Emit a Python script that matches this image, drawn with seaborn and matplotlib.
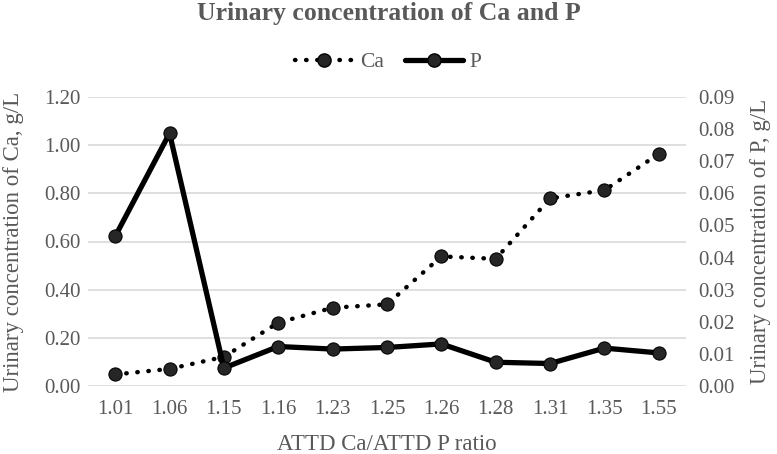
import matplotlib
matplotlib.use("Agg")
import matplotlib.pyplot as plt
import seaborn as sns
import pandas as pd
from matplotlib.lines import Line2D

ratios = ["1.01", "1.06", "1.15", "1.16", "1.23", "1.25", "1.26", "1.28", "1.31", "1.35", "1.55"]
ca_values = [0.048, 0.071, 0.121, 0.263, 0.325, 0.339, 0.538, 0.528, 0.779, 0.813, 0.964]
p_values = [0.0466, 0.0787, 0.0056, 0.0123, 0.0115, 0.0120, 0.0131, 0.0074, 0.0070, 0.0118, 0.0103]
left_ticks = [0.0, 0.2, 0.4, 0.6, 0.8, 1.0, 1.2]
right_ticks = [0.0, 0.01, 0.02, 0.03, 0.04, 0.05, 0.06, 0.07, 0.08, 0.09]

df = pd.DataFrame({"ratio": ratios, "Ca": ca_values, "P": p_values})

sns.set_theme(style="white")
plt.rcParams["font.family"] = ["Liberation Serif", "DejaVu Serif"]
gray = "#595959"
mk = "#262626"

fig = plt.figure(figsize=(7.77, 4.54), dpi=100)
ax = fig.add_axes([88/777, 1-386/454, 598/777, 289/454])
ax2 = ax.twinx()

dot = (0, (0.1, 2.4))
sns.lineplot(data=df, x="ratio", y="Ca", ax=ax, color="black", linestyle=dot,
             linewidth=3.2, dash_capstyle="round", marker="o", markersize=9.5,
             markerfacecolor=mk, markeredgecolor="black", sort=False, zorder=3)
sns.lineplot(data=df, x="ratio", y="P", ax=ax2, color="black", linestyle="-",
             linewidth=3.8, marker="o", markersize=9.5,
             markerfacecolor=mk, markeredgecolor="black", sort=False, zorder=3)

ax.set_ylim(0, 1.2)
ax2.set_ylim(0, 0.09)
ax.set_xlim(-0.5, len(ratios) - 0.5)
ax.set_yticks(left_ticks)
ax.set_yticklabels([f"{v:.2f}" for v in left_ticks])
ax2.set_yticks(right_ticks)
ax2.set_yticklabels([f"{v:.2f}" for v in right_ticks])
ax.grid(axis="y", color="#d9d9d9", linewidth=1.2)
ax.set_axisbelow(True)
for a in (ax, ax2):
    for s in a.spines.values():
        s.set_visible(False)
    a.tick_params(axis="both", length=0, labelsize=15, labelcolor=gray)
ax.tick_params(axis="y", pad=5.5)
ax2.tick_params(axis="y", pad=8.5)
ax.tick_params(axis="x", pad=10)

ax.set_xlabel("ATTD Ca/ATTD P ratio", fontsize=16.5, color=gray, labelpad=11)
ax.set_ylabel("Urinary concentration of Ca, g/L", fontsize=16.5, color=gray, labelpad=14)
ax2.set_ylabel("Urinary concentration of P, g/L", fontsize=16.5, color=gray, labelpad=11)

fig.suptitle("Urinary concentration of Ca and P", x=0.5, y=0.995, fontsize=18.5,
             fontweight="bold", color=gray)

handles = [
    Line2D([0], [0], color="black", linestyle=dot, linewidth=3.2,
           dash_capstyle="round", marker="o", markersize=9.5, markerfacecolor=mk,
           markeredgecolor="black"),
    Line2D([0], [0], color="black", linestyle="-", linewidth=3.8, marker="o",
           markersize=9.5, markerfacecolor=mk, markeredgecolor="black"),
]
fig.legend(handles, ["Ca", "P"], loc="center", bbox_to_anchor=(0.5, 1-62/454), ncol=2,
           frameon=False, fontsize=15.5, labelcolor=gray, handlelength=2.7,
           columnspacing=1.0, handletextpad=0.3)

fig.savefig("out.png", dpi=100)
